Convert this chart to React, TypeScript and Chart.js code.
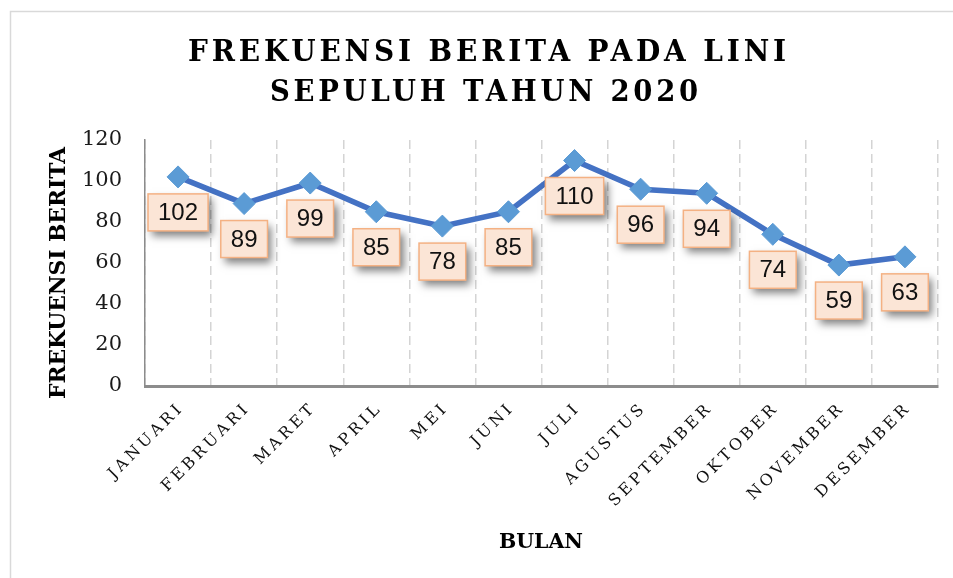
import React, { useEffect, useRef } from "react";
import { Chart, registerables } from "chart.js";

Chart.register(...registerables);

const MONTHS = ["JANUARI", "FEBRUARI", "MARET", "APRIL", "MEI", "JUNI", "JULI", "AGUSTUS", "SEPTEMBER", "OKTOBER", "NOVEMBER", "DESEMBER"];
const FREKUENSI = [102, 89, 99, 85, 78, 85, 110, 96, 94, 74, 59, 63];
const TITLE_LINES = ["FREKUENSI BERITA PADA LINI", "SEPULUH TAHUN 2020"];
const Y_TITLE = "FREKUENSI BERITA";
const X_TITLE = "BULAN";
const Y_MIN = 0;
const Y_MAX = 120;
const Y_STEP = 20;

const W = 953;
const H = 578;

// draws text char by char with spacing; text ends at x
function drawSpacedRight(ctx: CanvasRenderingContext2D, text: string, x: number, y: number, spacing: number) {
  const chars = Array.from(text);
  const widths = chars.map((c) => ctx.measureText(c).width);
  const total = widths.reduce((a, b) => a + b, 0) + spacing * (chars.length - 1);
  let cx = x - total;
  ctx.textAlign = "left";
  chars.forEach((c, i) => {
    ctx.fillText(c, cx, y);
    cx += widths[i] + spacing;
  });
}

const decorPlugin = {
  id: "decor",
  beforeDraw(chart: any) {
    const ctx = chart.ctx;
    ctx.save();
    ctx.fillStyle = "#ffffff";
    ctx.fillRect(0, 0, W, H);
    ctx.strokeStyle = "#d9d9d9";
    ctx.lineWidth = 1.5;
    ctx.beginPath();
    ctx.moveTo(10.5, H);
    ctx.lineTo(10.5, 11.5);
    ctx.lineTo(W, 11.5);
    ctx.stroke();
    ctx.restore();
  },
  afterDraw(chart: any) {
    const ctx = chart.ctx;
    const area = chart.chartArea;
    const xs = chart.scales.x;
    // title
    ctx.save();
    ctx.fillStyle = "#000000";
    ctx.textAlign = "center";
    ctx.textBaseline = "alphabetic";
    ctx.font = "bold 29px 'DejaVu Serif'";
    (ctx as any).letterSpacing = "4px";
    ctx.fillText(TITLE_LINES[0], 489, 61, 602);
    ctx.fillText(TITLE_LINES[1], 486, 101, 432);
    ctx.restore();

    // y title
    ctx.save();
    ctx.fillStyle = "#000000";
    ctx.font = "bold 22px 'DejaVu Serif'";
    ctx.textAlign = "center";
    ctx.textBaseline = "middle";
    ctx.translate(59, 273);
    ctx.rotate(-Math.PI / 2);
    ctx.fillText(Y_TITLE, 0, 0, 252);
    ctx.restore();

    // x title
    ctx.save();
    ctx.fillStyle = "#000000";
    ctx.font = "bold 21px 'DejaVu Serif'";
    ctx.textAlign = "center";
    ctx.textBaseline = "alphabetic";
    ctx.fillText(X_TITLE, 541, 548, 84);
    ctx.restore();

    // x tick labels (rotated, letter-spaced)
    ctx.save();
    ctx.fillStyle = "#111111";
    ctx.font = "16px 'DejaVu Serif'";
    ctx.textBaseline = "alphabetic";
    MONTHS.forEach((m, i) => {
      const px = xs.getPixelForValue(i) + 4;
      const py = area.bottom + 25;
      ctx.save();
      ctx.translate(px, py);
      ctx.rotate(-Math.PI / 4);
      drawSpacedRight(ctx, m, 0, 0, 3.5);
      ctx.restore();
    });
    ctx.restore();
  },
  afterDatasetsDraw(chart: any) {
    const ctx = chart.ctx;
    const meta = chart.getDatasetMeta(0);
    ctx.save();
    ctx.font = "24px 'Liberation Sans'";
    meta.data.forEach((pt: any, i: number) => {
      const text = String(FREKUENSI[i]);
      const tw = ctx.measureText(text).width;
      const bw = tw + 20;
      const bh = 37;
      const bx = pt.x - bw / 2;
      const by = pt.y + 17;
      ctx.save();
      ctx.shadowColor = "rgba(0,0,0,0.5)";
      ctx.shadowBlur = 8;
      ctx.shadowOffsetX = 4;
      ctx.shadowOffsetY = 5;
      ctx.fillStyle = "#FBE5D6";
      ctx.fillRect(bx, by, bw, bh);
      ctx.restore();
      ctx.strokeStyle = "#F4B183";
      ctx.lineWidth = 1.5;
      ctx.strokeRect(bx, by, bw, bh);
      ctx.fillStyle = "#111111";
      ctx.textAlign = "center";
      ctx.textBaseline = "middle";
      ctx.fillText(text, pt.x, by + bh / 2 + 1);
    });
    ctx.restore();
  },
};

export default function App() {
  const ref = useRef<HTMLCanvasElement | null>(null);
  useEffect(() => {
    if (!ref.current) return;
    const chart = new Chart(ref.current, {
      type: "line",
      data: {
        labels: MONTHS,
        datasets: [
          {
            data: FREKUENSI,
            borderColor: "#4472C4",
            borderWidth: 5.5,
            pointStyle: "rectRot",
            pointRadius: 11,
            pointHoverRadius: 11,
            pointBackgroundColor: "#5B9BD5",
            pointBorderColor: "#5B9BD5",
            pointBorderWidth: 1,
            tension: 0,
            fill: false,
          },
        ],
      },
      options: {
        responsive: false,
        animation: false,
        events: [],
        layout: { padding: { top: 140, left: 0, right: 15, bottom: 0 } },
        plugins: {
          legend: { display: false },
          title: { display: false },
          tooltip: { enabled: false },
        },
        scales: {
          x: {
            type: "category",
            offset: true,
            grid: {
              display: true,
              offset: true,
              color: "#d4d4d4",
              lineWidth: 1.5,
              drawTicks: false,
            },
            border: { display: true, color: "#8c8c8c", width: 3, dash: [9, 5] },
            ticks: { display: false },
            afterFit: (s: any) => {
              s.height = 192;
            },
          },
          y: {
            min: Y_MIN,
            max: Y_MAX,
            grid: { display: false, drawTicks: false },
            border: { display: true, color: "#8c8c8c", width: 1.5 },
            ticks: {
              stepSize: Y_STEP,
              padding: 23,
              color: "#1a1a1a",
              font: { family: "'DejaVu Serif'", size: 21 },
            },
            afterFit: (s: any) => {
              s.width = 145;
            },
          },
        },
      },
      plugins: [decorPlugin],
    });
    return () => chart.destroy();
  }, []);
  return (
    <div style={{ position: "fixed", left: 0, top: 0, width: W, height: H, overflow: "hidden", background: "#fff" }}>
      <canvas ref={ref} width={W} height={H} style={{ display: "block", width: W, height: H }} />
    </div>
  );
}
